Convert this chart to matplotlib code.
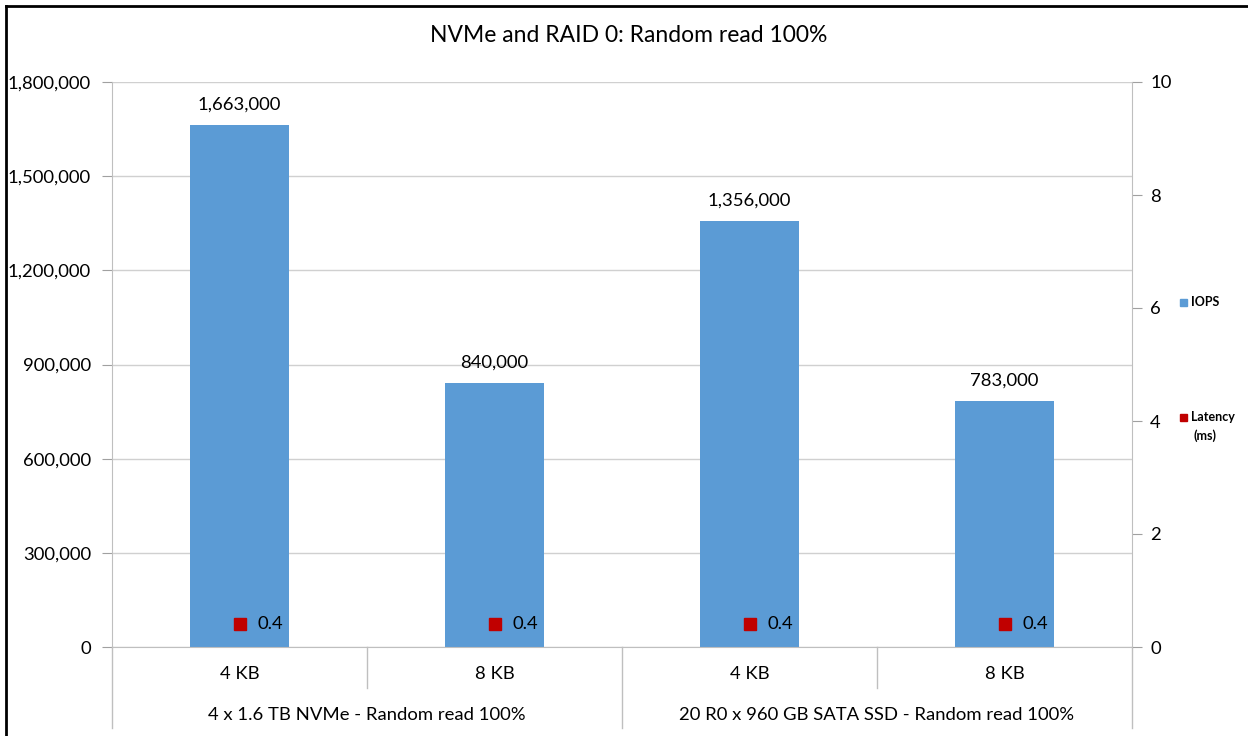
import matplotlib
matplotlib.use("Agg")
import matplotlib.pyplot as plt
from matplotlib.lines import Line2D
from matplotlib.patches import Rectangle
from matplotlib.ticker import FuncFormatter

plt.rcParams['font.family'] = ['Lato', 'DejaVu Sans']

title = "NVMe and RAID 0: Random read 100%"
sub_labels = ["4 KB", "8 KB", "4 KB", "8 KB"]
group_labels = ["4 x 1.6 TB NVMe - Random read 100%", "20 R0 x 960 GB SATA SSD - Random read 100%"]
iops = [1663000, 840000, 1356000, 783000]
latency = [0.4, 0.4, 0.4, 0.4]
series_names = ["IOPS", "Latency\n(ms)"]

bar_color = "#5B9BD5"
lat_color = "#C00000"
grid_color = "#D0D0D0"
axis_color = "#BFBFBF"
FS = 13.3

W, H = 1248, 736
fig = plt.figure(figsize=(W / 100, H / 100), dpi=100)
L, R, T, B = 112, 1132, 82, 647
ax = fig.add_axes([L / W, 1 - B / H, (R - L) / W, (B - T) / H])

x = list(range(len(iops)))
ax.bar(x, iops, width=0.39, color=bar_color, zorder=2)
ax.set_xlim(-0.5, len(iops) - 0.5)
ax.set_ylim(0, 1800000)
ax.set_yticks(range(0, 1800001, 300000))
ax.yaxis.set_major_formatter(FuncFormatter(lambda v, p: f"{int(v):,}"))
ax.grid(axis='y', color=grid_color, linewidth=1, zorder=0)
ax.set_axisbelow(True)
for s in ['top', 'right']:
    ax.spines[s].set_visible(False)
for s in ['left', 'bottom']:
    ax.spines[s].set_color(axis_color)
ax.tick_params(axis='y', length=7, color="#A0A0A0", labelsize=FS, pad=8, direction='out')
ax.tick_params(axis='x', length=0, labelsize=FS, pad=14)
ax.set_xticks(x)
ax.set_xticklabels(sub_labels)

for xi, v in zip(x, iops):
    ax.annotate(f"{v:,}", (xi, v), xytext=(0, 9), textcoords='offset points',
                ha='center', va='bottom', fontsize=FS)

# multi-level category axis lines
trans = ax.get_xaxis_transform()
sub_depth = -(688 - B) / (B - T)
grp_depth = -(728 - B) / (B - T)
for b in [0.5, 2.5]:
    ax.add_line(Line2D([b, b], [0, sub_depth], transform=trans, color=axis_color, lw=1, clip_on=False))
for b in [-0.5, 1.5, 3.5]:
    ax.add_line(Line2D([b, b], [0, grp_depth], transform=trans, color=axis_color, lw=1, clip_on=False))
for gi, g in enumerate(group_labels):
    ax.text(gi * 2 + 0.5, -(715 - B) / (B - T), g, transform=trans, ha='center', va='center', fontsize=FS)

# secondary axis
ax2 = ax.twinx()
ax2.set_ylim(0, 10)
ax2.set_yticks(range(0, 11, 2))
for s in ['top', 'left', 'bottom']:
    ax2.spines[s].set_visible(False)
ax2.spines['right'].set_color(axis_color)
ax2.tick_params(axis='y', length=7, color="#A0A0A0", labelsize=FS, pad=6)
ax2.plot(x, latency, linestyle='none', marker='s', markersize=8.5, color=lat_color, zorder=3)
for xi, v in zip(x, latency):
    ax2.annotate(f"{v}", (xi, v), xytext=(13, 0), textcoords='offset points',
                 ha='left', va='center', fontsize=FS)

fig.text(629 / W, 1 - 35 / H, title, ha='center', va='center', fontsize=16.5)

# legend (manual)
fig.add_artist(Rectangle((1180 / W, 1 - 306 / H), 7 / W, 7 / H, transform=fig.transFigure, color=bar_color))
fig.text(1191 / W, 1 - 302 / H, series_names[0], fontsize=9, fontweight='bold', va='center', ha='left')
fig.add_artist(Rectangle((1180 / W, 1 - 421 / H), 7 / W, 7 / H, transform=fig.transFigure, color=lat_color))
fig.text(1191 / W, 1 - 417 / H, "Latency", fontsize=9, fontweight='bold', va='center', ha='left')
fig.text(1193 / W, 1 - 436 / H, "(ms)", fontsize=9, fontweight='bold', va='center', ha='left')

# frame (top and left visible)
fig.add_artist(Line2D([6 / W, 1], [1 - 6 / H, 1 - 6 / H], transform=fig.transFigure, color='black', lw=2))
fig.add_artist(Line2D([6 / W, 6 / W], [0, 1 - 6 / H], transform=fig.transFigure, color='black', lw=2))

fig.savefig("out.png", dpi=100)
